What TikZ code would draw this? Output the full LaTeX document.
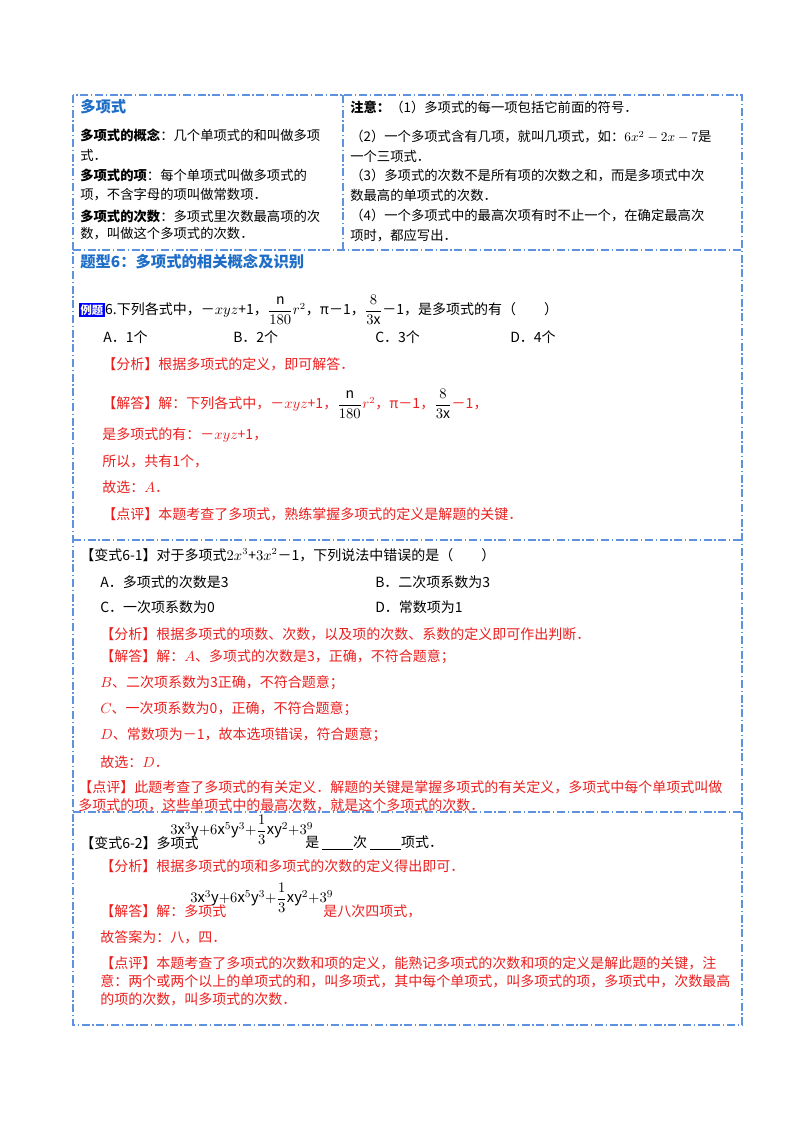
\documentclass[tikz,border=0pt]{standalone}
\usepackage{amsmath}
\usepackage{fontspec}
\setmainfont{Noto Sans CJK SC}
\definecolor{bl}{RGB}{95,145,225}
\definecolor{hd}{RGB}{30,110,200}
\definecolor{rd}{RGB}{235,30,30}
\begin{document}
\begin{tikzpicture}[x=0.75pt,y=-0.75pt,
  t/.style={anchor=west,inner sep=0pt,font=\fontsize{10.5}{12}\selectfont},
  l/.style={t,font=\fontsize{10}{12}\selectfont},
  r/.style={t,text=rd},
  ex/.style={anchor=west,inner sep=0pt,font=\fontsize{11}{13}\selectfont},
  h/.style={anchor=west,inner sep=0pt,text=hd,font=\fontsize{11.5}{13}\selectfont\bfseries},
  frame/.style={draw=bl,line width=0.8pt,dash pattern=on 6pt off 2pt on 1pt off 2pt}]
\useasboundingbox (0,0) rectangle (800,1132);
% frames
\draw[frame] (73,95) rectangle (742,1025);
\draw[frame] (73,250) -- (742,250);
\draw[frame] (73,540) -- (742,540);
\draw[frame] (73,812) -- (742,812);
\draw[frame] (343,95) -- (343,250);
% left column
\node[h] (a0) at (80,107) {多项式};
\node[l] (a1) at (80,135) {\textbf{多项式的概念}：几个单项式的和叫做多项};
\node[l] (a2) at (80,155) {式．};
\node[l] (a3) at (80,175) {\textbf{多项式的项}：每个单项式叫做多项式的};
\node[l] (a4) at (80,195) {项，不含字母的项叫做常数项．};
\node[l] (a5) at (80,216) {\textbf{多项式的次数}：多项式里次数最高项的次};
\node[l] (a6) at (80,234) {数，叫做这个多项式的次数．};
% right column
\node[l] (b1) at (350,107) {\textbf{注意：}（1）多项式的每一项包括它前面的符号．};
\node[l] (b2) at (350,137) {（2）一个多项式含有几项，就叫几项式，如：$6x^2-2x-7$是};
\node[l] (b3) at (350,156) {一个三项式．};
\node[l] (b4) at (350,176) {（3）多项式的次数不是所有项的次数之和，而是多项式中次};
\node[l] (b5) at (350,195) {数最高的单项式的次数．};
\node[l] (b6) at (350,216) {（4）一个多项式中的最高次项有时不止一个，在确定最高次};
\node[l] (b7) at (350,236) {项时，都应写出．};
% section 2
\node[h] (s2) at (80,262) {题型6：多项式的相关概念及识别};
\node[anchor=west,inner sep=1pt,fill=blue,text=white,font=\fontsize{8.5}{10}\selectfont\bfseries] (exm) at (79,310) {例题};
\node[t,anchor=west] (q6) at (exm.east) {6.下列各式中，－$xyz$+1，$\dfrac{\mathrm{n}}{180}r^2$，π－1，$\dfrac{8}{3\mathrm{x}}$－1，是多项式的有（　　）};
\node[t] (oA) at (103,337) {A．1个};
\node[t] (oB) at (233,337) {B．2个};
\node[t] (oC) at (375,337) {C．3个};
\node[t] (oD) at (510,337) {D．4个};
\node[r] (f1) at (102,364) {【分析】根据多项式的定义，即可解答．};
\node[r] (j1) at (102,404) {【解答】解：下列各式中，－$xyz$+1，{\color{black}$\dfrac{\mathrm{n}}{180}$}$r^2$，π－1，{\color{black}$\dfrac{8}{3\mathrm{x}}$}－1，};
\node[r] (j2) at (102,435) {是多项式的有：－$xyz$+1，};
\node[r] (j3) at (102,461) {所以，共有1个，};
\node[r] (j4) at (102,487) {故选：$A$．};
\node[r] (p1) at (102,514) {【点评】本题考查了多项式，熟练掌握多项式的定义是解题的关键．};
% section 3
\node[t] (v1) at (80,555) {【变式6-1】对于多项式$2x^3$+$3x^2$－1，下列说法中错误的是（　　）};
\node[t] (cA) at (100,582) {A．多项式的次数是3};
\node[t] (cB) at (375,582) {B．二次项系数为3};
\node[t] (cC) at (100,607) {C．一次项系数为0};
\node[t] (cD) at (375,607) {D．常数项为1};
\node[r] (f2) at (100,634) {【分析】根据多项式的项数、次数，以及项的次数、系数的定义即可作出判断．};
\node[r] (k1) at (100,657) {【解答】解：$A$、多项式的次数是3，正确，不符合题意；};
\node[r] (k2) at (100,683) {$B$、二次项系数为3正确，不符合题意；};
\node[r] (k3) at (100,709) {$C$、一次项系数为0，正确，不符合题意；};
\node[r] (k4) at (100,735) {$D$、常数项为－1，故本选项错误，符合题意；};
\node[r] (k5) at (100,762) {故选：$D$．};
\node[r] (p2) at (78,787) {【点评】此题考查了多项式的有关定义．解题的关键是掌握多项式的有关定义，多项式中每个单项式叫做};
\node[r] (p3) at (78,805) {多项式的项，这些单项式中的最高次数，就是这个多项式的次数．};
% section 4
\node[t] (v2) at (80,843) {【变式6-2】多项式};
\node[ex] (e1) at (170,830) {$3\mathrm{x}^3\mathrm{y}{+}6\mathrm{x}^5\mathrm{y}^3{+}\dfrac{1}{3}\mathrm{x}\mathrm{y}^2{+}3^9$};
\node[t] (v2b) at (305,843) {是 \underline{\hspace{2.2em}}次 \underline{\hspace{2.2em}}项式．};
\node[r] (f3) at (100,866) {【分析】根据多项式的项和多项式的次数的定义得出即可．};
\node[r] (m1) at (100,911) {【解答】解：多项式};
\node[ex] (e2) at (190,898) {$3\mathrm{x}^3\mathrm{y}{+}6\mathrm{x}^5\mathrm{y}^3{+}\dfrac{1}{3}\mathrm{x}\mathrm{y}^2{+}3^9$};
\node[r] (m2) at (323,911) {是八次四项式，};
\node[r] (m3) at (100,937) {故答案为：八，四．};
\node[r] (p4) at (100,963) {【点评】本题考查了多项式的次数和项的定义，能熟记多项式的次数和项的定义是解此题的关键，注};
\node[r] (p5) at (100,981) {意：两个或两个以上的单项式的和，叫多项式，其中每个单项式，叫多项式的项，多项式中，次数最高};
\node[r] (p6) at (100,999) {的项的次数，叫多项式的次数．};
\end{tikzpicture}
\end{document}
